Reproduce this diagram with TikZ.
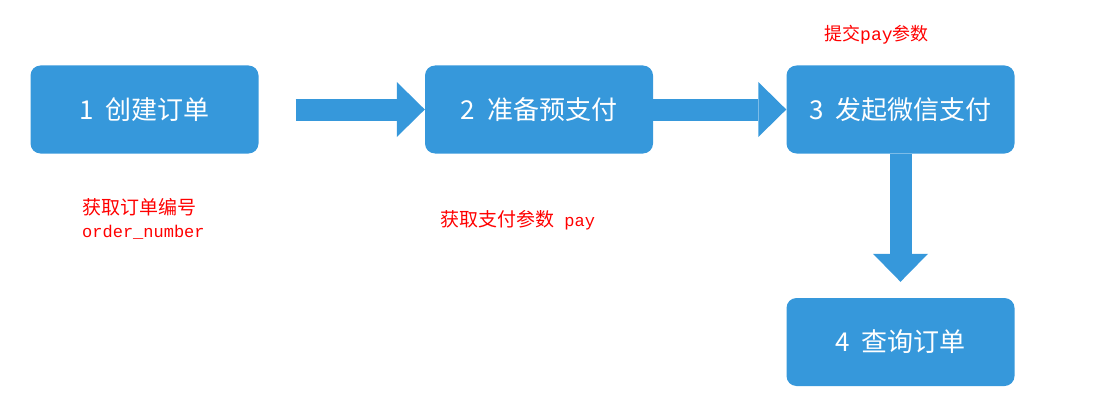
\documentclass[tikz,border=0pt]{standalone}
\usepackage{fontspec}
\setmainfont{Noto Sans CJK SC}
\newfontfamily\monofam{Liberation Mono}
\usetikzlibrary{arrows.meta,calc}

\definecolor{stepblue}{RGB}{54,152,219}
\definecolor{notered}{RGB}{255,0,0}
\newcommand{\monotext}[1]{{\monofam\fontsize{17}{23}\selectfont #1}}

\tikzset{
  stepbox/.style={fill=stepblue,rounded corners=10pt,minimum width=228pt,
    minimum height=88pt,inner sep=0pt,text=white,font=\fontsize{26}{30}\selectfont},
  note/.style={text=notered,inner sep=0pt,anchor=west,align=left,
    font=\fontsize{19}{23}\selectfont},
  flow/.style={draw=stepblue,line width=22pt,
    -{Triangle[width=55pt,length=28pt,line width=0pt]}}
}

\begin{document}
\begin{tikzpicture}[x=1pt,y=-1pt]
\useasboundingbox (0,0) rectangle (1098,420);

\node[stepbox] (create)  at (144.5,109.5) {1\ \ 创建订单};
\node[stepbox] (prepare) at (539,109.5)   {2\ \ 准备预支付};
\node[stepbox] (launch)  at (900.5,109.5) {3\ \ 发起微信支付};
\node[stepbox] (query)   at (900.5,342)   {4\ \ 查询订单};

\draw[flow] ($(create.east)+(37,0)$) -- (prepare.west);
\draw[flow] (prepare.east) -- (launch.west);
\draw[flow] (launch.south) -- ($(query.north)+(0,-16)$);

\node[note] (ordernote) at (82,219)  {获取订单编号\\\monotext{order\_number}};
\node[note] (paynote)   at (440,220) {获取支付参数\monotext{\ pay}};
\node[note,font=\fontsize{18}{22}\selectfont] (submitnote) at (824,35)
  {提交{\monofam\fontsize{18}{22}\selectfont pay}参数};
\end{tikzpicture}
\end{document}
